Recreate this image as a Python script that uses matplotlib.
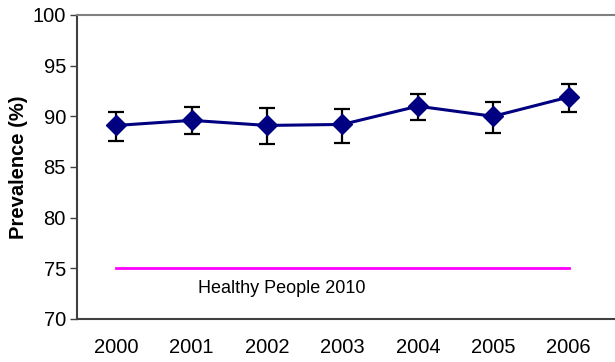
import matplotlib.pyplot as plt

plt.rcParams['font.family'] = ['Liberation Sans', 'DejaVu Sans']

years = ['2000', '2001', '2002', '2003', '2004', '2005', '2006']
prevalence = [89.1, 89.6, 89.1, 89.2, 91.0, 90.0, 91.9]
ci_upper = [90.4, 90.9, 90.8, 90.7, 92.2, 91.4, 93.2]
ci_lower = [87.6, 88.3, 87.3, 87.4, 89.6, 88.4, 90.4]
target = 75

x = list(range(len(years)))
err_low = [p - l for p, l in zip(prevalence, ci_lower)]
err_high = [u - p for p, u in zip(prevalence, ci_upper)]

fig = plt.figure(figsize=(6.15, 3.62), dpi=100)
ax = fig.add_axes([0.1252, 0.1188, 0.873, 0.8398])

# Healthy People 2010 target line
ax.plot([x[0], x[-1]], [target, target], color='#FF00FF', linewidth=2)
ax.text(1.09, 73.0, 'Healthy People 2010', fontsize=13, va='center', ha='left')

ax.errorbar(x, prevalence, yerr=[err_low, err_high], fmt='none',
            ecolor='black', elinewidth=1.6, capsize=6, capthick=1.6, zorder=2)
ax.plot(x, prevalence, color='#000080', linewidth=2.2, marker='D',
        markersize=10.5, markerfacecolor='#000080', markeredgecolor='#000080', zorder=3)

ax.set_xlim(-0.52, 6.6)
ax.set_ylim(70, 100)
ax.set_yticks(range(70, 101, 5))
ax.set_xticks(x)
ax.set_xticklabels(years)
ax.tick_params(axis='y', labelsize=14.5, direction='out', length=5, width=1,
               color='#404040', pad=3)
ax.tick_params(axis='x', labelsize=14.5, length=0, pad=14)
ax.set_ylabel('Prevalence (%)', fontsize=14.5, fontweight='bold', labelpad=3)

ax.spines['right'].set_visible(False)
ax.spines['top'].set_color('#808080')
ax.spines['top'].set_linewidth(1.5)
ax.spines['left'].set_color('#404040')
ax.spines['left'].set_linewidth(1.5)
ax.spines['bottom'].set_color('#404040')
ax.spines['bottom'].set_linewidth(1.5)

fig.savefig('out.png', dpi=100)
